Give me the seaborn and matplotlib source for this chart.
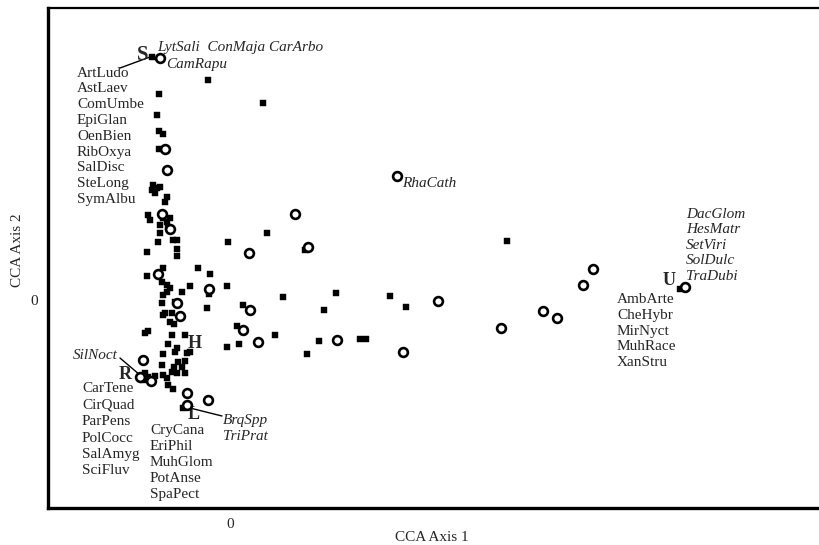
import numpy as np
import pandas as pd
import seaborn as sns
import matplotlib.pyplot as plt

# sample scores (filled squares) on CCA axes 1 and 2
sq_x = [-0.78, -0.22, -0.71, 0.33, -0.73, -0.71, -0.67, -0.71,
        -0.77, -0.73, -0.78, -0.75, -0.70, -0.63, -0.65,
        -0.82, -0.80, -0.67, -0.63, -0.60, -0.70, -0.62, -0.70,
        -0.72, -0.57, -0.53, -0.53, -0.53, -0.83, 0.37, -0.02, 0.75,
        -0.67, -0.32, -0.20, -0.83, -0.68, -0.63, -0.60, -0.40, -0.21, -0.03, -0.48,
        -0.67, -0.63, -0.68, -0.55, 0.53, 1.06, 1.60, 1.76, 2.77,
        -0.23, 0.13, 0.94, -0.67, -0.65, -0.58, -0.60, -0.56, 0.07, 0.45,
        -0.85, -0.82, -0.58, -0.45, -0.62, -0.53, -0.40, -0.03, 0.09,
        0.89, 1.30, 1.36, 0.77, -0.67, -0.55, -0.43,
        -0.68, -0.52, -0.45, -0.56, -0.48, -0.58, -0.53, -0.45,
        -0.85, -0.82, -0.75, -0.87, -0.67, -0.63, -0.62, -0.57, -0.47, -0.61, 4.50]
sq_y = [2.43, 2.20, 2.06, 1.97, 1.85, 1.69, 1.66, 1.51,
        1.15, 1.12, 1.10, 1.07, 1.13, 1.03, 0.98,
        0.85, 0.80, 0.82, 0.78, 0.82, 0.75, 0.73, 0.67,
        0.58, 0.60, 0.60, 0.51, 0.44, 0.48, 0.67, 0.58, 0.50,
        0.32, 0.32, 0.26, 0.24, 0.18, 0.15, 0.12, 0.14, 0.06, 0.14, 0.08,
        0.05, 0.08, -0.03, -0.02, 0.03, 0.07, 0.04, -0.07, 0.59,
        -0.08, -0.05, -0.10, -0.15, -0.13, -0.13, -0.22, -0.24, -0.26, -0.35,
        -0.33, -0.31, -0.35, -0.35, -0.44, -0.48, -0.52, -0.47, -0.44,
        -0.41, -0.39, -0.39, -0.54, -0.54, -0.52, -0.53,
        -0.65, -0.62, -0.61, -0.67, -0.67, -0.72, -0.73, -0.73,
        -0.73, -0.77, -0.76, -0.80, -0.75, -0.78, -0.85, -0.89, -1.08, 0.71, 0.11]

# sample scores (open circles)
ci_x = [-0.70, -0.65, -0.63, -0.68, -0.60, 0.65, 0.78, 0.19,
        -0.72, -0.21, -0.53, 0.20, -0.50, 0.13, 0.28, 1.07,
        1.73, 2.08, 1.67, 3.63, 3.53, 3.13, 3.27, 2.71,
        -0.87, -0.90, -0.79, -0.43, -0.22, -0.43, 4.55]
ci_y = [2.42, 1.51, 1.30, 0.86, 0.71, 0.86, 0.53, 0.47,
        0.26, 0.11, -0.03, -0.10, -0.16, -0.30, -0.42, -0.40,
        -0.52, -0.01, 1.24, 0.31, 0.15, -0.11, -0.18, -0.28,
        -0.60, -0.77, -0.81, -0.93, -1.00, -1.05, 0.13]

# site group centroids
site_names = ['S', 'H', 'R', 'L', 'U']
site_x = [-0.87, -0.35, -1.05, -0.36, 4.39]
site_y = [2.45, -0.43, -0.75, -1.15, 0.20]
site_size = [15, 13, 13, 13, 13]

# species lists attached to groups
s_species = ['ArtLudo', 'AstLaev', 'ComUmbe', 'EpiGlan', 'OenBien',
             'RibOxya', 'SalDisc', 'SteLong', 'SymAlbu']
s_italic = ['LytSali  ConMaja CarArbo', 'CamRapu']
u_italic = ['DacGlom', 'HesMatr', 'SetViri', 'SolDulc', 'TraDubi']
u_species = ['AmbArte', 'CheHybr', 'MirNyct', 'MuhRace', 'XanStru']
r_species = ['CarTene', 'CirQuad', 'ParPens', 'PolCocc', 'SalAmyg', 'SciFluv']
l_species = ['CryCana', 'EriPhil', 'MuhGlom', 'PotAnse', 'SpaPect']
l_italic = ['BrqSpp', 'TriPrat']

sns.set_style('white')
plt.rcParams['font.family'] = ['Liberation Serif', 'DejaVu Serif']

fig = plt.figure(figsize=(8.2, 5.45), dpi=100)
ax = fig.add_axes([0.0585, 0.0679, 0.9415, 0.9174])

sq = pd.DataFrame({'x': sq_x, 'y': sq_y})
ci = pd.DataFrame({'x': ci_x, 'y': ci_y})
sns.scatterplot(data=sq, x='x', y='y', marker='s', s=20, color='black',
                edgecolor='black', linewidth=0.3, ax=ax, zorder=3)
sns.scatterplot(data=ci, x='x', y='y', marker='o', s=40, facecolor='white',
                edgecolor='black', linewidth=1.9, ax=ax, zorder=4)

fs = 11
for name, x, y, sz in zip(site_names, site_x, site_y, site_size):
    ax.text(x, y, name, fontsize=sz, fontweight='bold', ha='center', va='center')

dy = 0.158
for i, t in enumerate(s_species):
    ax.text(-1.53, 2.27 - i * dy, t, fontsize=fs, va='center')
ax.text(-0.73, 2.53, s_italic[0], fontsize=fs, style='italic', va='center')
ax.text(-0.64, 2.36, s_italic[1], fontsize=fs, style='italic', va='center')
ax.plot([-1.10, -0.80], [2.32, 2.43], color='black', lw=1)

ax.text(1.72, 1.17, 'RhaCath', fontsize=fs, style='italic', va='center')

for i, t in enumerate(u_italic):
    ax.text(4.56, 0.86 - i * 0.155, t, fontsize=fs, style='italic', va='center')
for i, t in enumerate(u_species):
    ax.text(3.87, 0.01 - i * 0.16, t, fontsize=fs, va='center')

ax.text(-1.12, -0.56, 'SilNoct', fontsize=fs, style='italic', ha='right', va='center')
ax.plot([-1.10, -0.90], [-0.58, -0.75], color='black', lw=1)

for i, t in enumerate(r_species):
    ax.text(-1.48, -0.89 - i * 0.164, t, fontsize=fs, va='center')
for i, t in enumerate(l_species):
    ax.text(-0.80, -1.31 - i * 0.16, t, fontsize=fs, va='center')
for i, t in enumerate(l_italic):
    ax.text(-0.07, -1.21 - i * 0.16, t, fontsize=fs, style='italic', va='center')
ax.plot([-0.44, -0.08], [-1.07, -1.16], color='black', lw=1)

ax.set_xlim(-1.82, 5.90)
ax.set_ylim(-2.08, 2.92)
ax.set_xticks([0])
ax.set_yticks([0])
ax.set_xticklabels(['0'], fontsize=fs)
ax.set_yticklabels(['0'], fontsize=fs)
ax.tick_params(direction='inout', length=6, width=1.2, pad=4)
ax.set_xlabel('CCA Axis 1', fontsize=fs)
ax.set_ylabel('CCA Axis 2', fontsize=fs)
ax.xaxis.set_label_coords(0.497, -0.046)
ax.yaxis.set_label_coords(-0.031, 0.516)

ax.spines['right'].set_visible(False)
ax.spines['left'].set_linewidth(2.4)
ax.spines['bottom'].set_linewidth(2.4)
ax.spines['top'].set_linewidth(1.6)
for s in ['left', 'bottom', 'top']:
    ax.spines[s].set_color('black')

fig.savefig('out.png', dpi=100)
